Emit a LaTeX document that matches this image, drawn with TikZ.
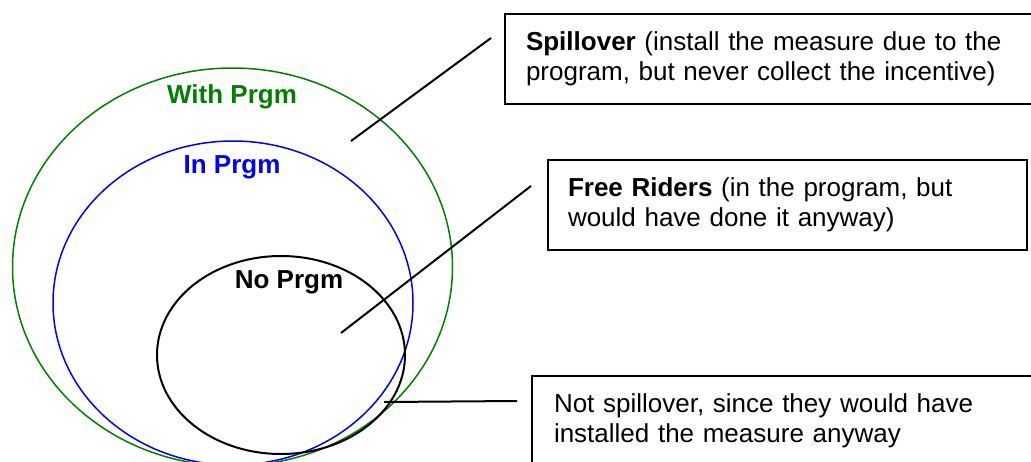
\documentclass[tikz,border=0pt]{standalone}
\usepackage{fontspec}
\setmainfont{Liberation Sans}
\definecolor{sgreen}{RGB}{0,128,0}
\definecolor{sblue}{RGB}{0,0,255}
\begin{document}
\begin{tikzpicture}[x=1pt,y=-1pt,
  ring/.style={line width=1.5pt},
  lbl/.style={font=\fontsize{26}{30}\selectfont\bfseries, anchor=base, inner sep=0pt},
  box/.style={draw, line width=2pt, anchor=north west, align=left, font=\fontsize{26}{30}\selectfont},
  openbox/.style={anchor=north west, align=left, outer sep=0pt, font=\fontsize{26}{30}\selectfont},
  boxline/.style={line width=2pt},
  conn/.style={line width=2pt}]
\useasboundingbox (0,0) rectangle (1031,461);
\clip (0,0) rectangle (1031,461);
\fill[white] (0,0) rectangle (1031,461);
% sets
\draw[ring, sgreen] (232.5,267) ellipse [x radius=220pt, y radius=199pt];
\draw[ring, sblue] (233,303) ellipse [x radius=180pt, y radius=162pt];
\draw[ring, black, line width=2pt] (281,355) ellipse [x radius=124pt, y radius=99pt];
% labels
\node[lbl, text=sgreen] (lwith) at (232,103) {With Prgm};
\node[lbl, text=sblue] (lin) at (232,173) {In Prgm};
\node[lbl] (lno) at (289,288) {No Prgm};
% boxes (the two boxes cut by the picture's right or bottom edge are drawn open there)
\node[openbox, inner xsep=21pt, inner ysep=0pt, text width=540pt, minimum height=90pt] (bspill) at (505,14)
  {\textbf{Spillover} (install the measure due to the\\program, but never collect the incentive)};
\draw[boxline] ([xshift=60pt]bspill.north east) -- (bspill.north west) -- (bspill.south west) -- ([xshift=60pt]bspill.south east);
\node[box, inner xsep=20pt, inner ysep=0pt, text width=439pt, minimum height=90pt] (bfree) at (547,159)
  {\textbf{Free Riders} (in the program, but\\would have done it anyway)};
\node[openbox, inner xsep=22pt, inner ysep=18pt, text width=560pt] (bnot) at (532,376)
  {Not spillover, since they would have\\installed the measure anyway};
\draw[boxline] ([yshift=-40pt]bnot.south west) -- (bnot.north west) -- ([xshift=60pt]bnot.north east);
% connectors
\coordinate (pspill) at (351,141);
\coordinate (pfree) at (341,333);
\coordinate (pnot) at (384,402);
\draw[conn] (pspill) -- ([xshift=-14pt,yshift=-24pt]bspill.north west);
\draw[conn] (pfree) -- ([xshift=-16pt,yshift=-27pt]bfree.north west);
\draw[conn] (pnot) -- ([xshift=-15pt,yshift=-25pt]bnot.north west);
\end{tikzpicture}
\end{document}
